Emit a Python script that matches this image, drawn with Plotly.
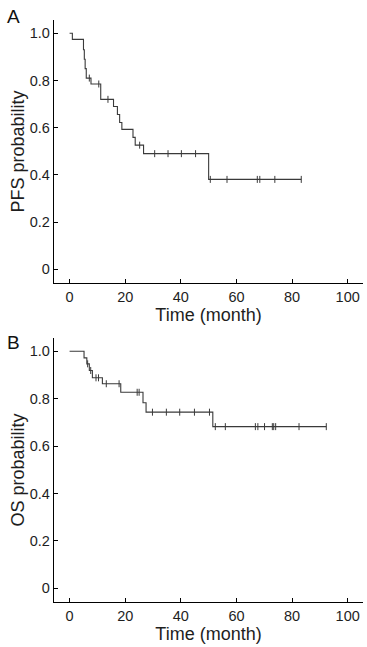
import plotly.graph_objects as go

# PFS (panel A) Kaplan-Meier steps
pfs_times = [0, 1, 5, 5.3, 5.6, 6, 7.7, 11.2, 15.8, 17.2, 18, 18.8, 22.8, 23.6, 26.6, 50, 83.3]
pfs_surv = [1.0, 0.974, 0.93, 0.89, 0.85, 0.81, 0.785, 0.72, 0.69, 0.656, 0.622, 0.593, 0.559, 0.526, 0.49, 0.381, 0.381]
pfs_cens_t = [7.1, 10.5, 13.8, 25.2, 30.6, 35.4, 40.2, 45.3, 50.6, 56.6, 67.5, 68.4, 73.8, 83.3]
pfs_cens_s = [0.81, 0.785, 0.72, 0.526, 0.49, 0.49, 0.49, 0.49, 0.381, 0.381, 0.381, 0.381, 0.381, 0.381]

# OS (panel B) Kaplan-Meier steps
os_times = [0, 5.2, 6.2, 7.1, 8.2, 11.8, 18.4, 26.4, 27.5, 51.5, 92.3]
os_surv = [1.0, 0.972, 0.947, 0.919, 0.888, 0.863, 0.827, 0.783, 0.743, 0.682, 0.682]
os_cens_t = [6.5, 7.6, 9.5, 10.4, 13.2, 17.8, 24.3, 25.0, 29.8, 34.8, 39.6, 44.9, 50.3, 52.4, 56.0,
             66.8, 67.7, 70.1, 72.9, 73.4, 74.1, 82.5, 92.3]
os_cens_s = [0.947, 0.919, 0.888, 0.888, 0.863, 0.863, 0.827, 0.827, 0.743, 0.743, 0.743, 0.743, 0.743,
             0.682, 0.682, 0.682, 0.682, 0.682, 0.682, 0.682, 0.682, 0.682, 0.682]

x_ticks = [0, 20, 40, 60, 80, 100]
y_ticks = [0, 0.2, 0.4, 0.6, 0.8, 1.0]
y_ticktext = ["0", "0.2", "0.4", "0.6", "0.8", "1.0"]

LINE = "#3a3a3a"
TXT = "#1e1e1e"
FONT = "Liberation Sans, Arial, sans-serif"

fig = go.Figure()
for (t, s, ct, cs, xa, ya) in [
    (pfs_times, pfs_surv, pfs_cens_t, pfs_cens_s, "x", "y"),
    (os_times, os_surv, os_cens_t, os_cens_s, "x2", "y2"),
]:
    fig.add_trace(go.Scatter(x=t, y=s, mode="lines", line=dict(shape="hv", color=LINE, width=1.1),
                             xaxis=xa, yaxis=ya, showlegend=False, hoverinfo="skip"))
    fig.add_trace(go.Scatter(x=ct, y=cs, mode="markers",
                             marker=dict(symbol="line-ns", size=5, line=dict(color=LINE, width=1)),
                             xaxis=xa, yaxis=ya, showlegend=False, hoverinfo="skip"))

axis_common = dict(showline=True, linecolor="black", linewidth=1.3, ticks="inside", ticklen=4,
                   tickcolor="black", tickwidth=1, showgrid=False, zeroline=False, automargin=False,
                   tickfont=dict(size=14.5, color=TXT, family=FONT), mirror=False)

xcommon = dict(axis_common, range=[-5.6, 105.5], tickvals=x_ticks,
               title=dict(text="Time (month)", font=dict(size=18, color=TXT, family=FONT), standoff=2))
ycommon = dict(axis_common, range=[-0.058, 1.056], tickvals=y_ticks, ticktext=y_ticktext)

fig.update_layout(
    width=367, height=647,
    margin=dict(l=54, r=4, t=20, b=45),
    plot_bgcolor="white", paper_bgcolor="white",
    xaxis=dict(xcommon, anchor="y", domain=[0, 1]),
    yaxis=dict(ycommon, anchor="x", domain=[0.548, 1],
               title=dict(text="PFS probability", font=dict(size=18, color=TXT, family=FONT), standoff=0)),
    xaxis2=dict(xcommon, anchor="y2", domain=[0, 1]),
    yaxis2=dict(ycommon, anchor="x2", domain=[0, 0.4536],
                title=dict(text="OS probability", font=dict(size=18, color=TXT, family=FONT), standoff=0)),
)
W = 367 - 54 - 4
H = 647 - 20 - 45
fig.add_annotation(text="A", x=-49 / W, y=1 + 3.5 / H, xref="paper", yref="paper", xanchor="left", yanchor="middle",
                   showarrow=False, font=dict(size=19, family=FONT, color="#111"))
fig.add_annotation(text="B", x=-49 / W, y=(H - (342 - 20)) / H, xref="paper", yref="paper", xanchor="left",
                   yanchor="middle", showarrow=False, font=dict(size=19, family=FONT, color="#111"))

fig.write_html("out.html", config={"displayModeBar": False},
               post_script="document.body.style.margin='0';document.body.style.overflow='hidden';")
